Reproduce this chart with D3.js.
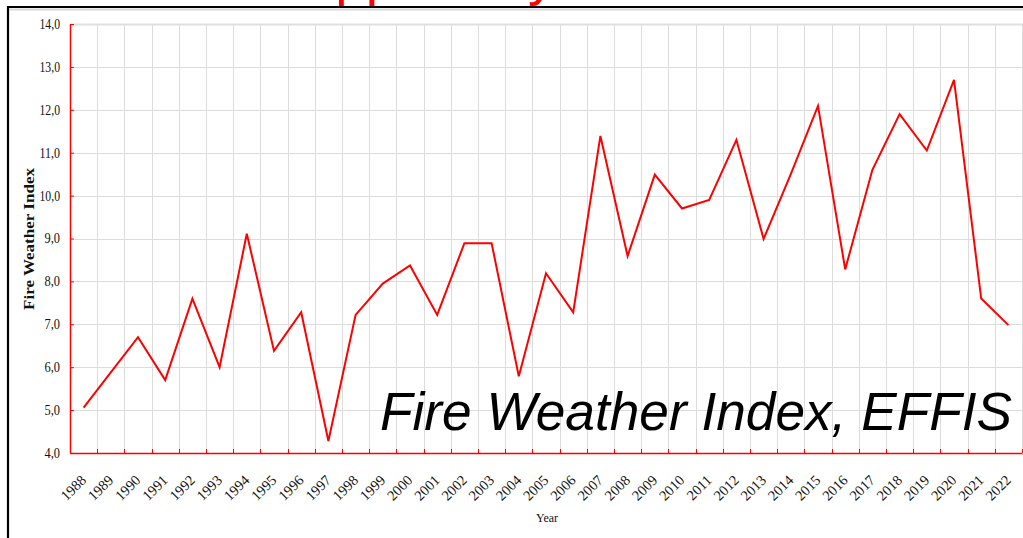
<!DOCTYPE html>
<html>
<head>
<meta charset="utf-8">
<script src="https://cdn.jsdelivr.net/npm/d3@7"></script>
<style>
  html, body { margin: 0; padding: 0; background: #fff; }
  svg { display: block; }
</style>
</head>
<body>
<div id="chart"></div>
<script>
const years = ['1988','1989','1990','1991','1992','1993','1994','1995','1996','1997','1998','1999',
  '2000','2001','2002','2003','2004','2005','2006','2007','2008','2009','2010','2011',
  '2012','2013','2014','2015','2016','2017','2018','2019','2020','2021','2022'];
const fwi = [5.06, 5.88, 6.70, 5.70, 7.60, 6.00, 9.11, 6.38, 7.28, 4.28, 7.22, 7.95,
  8.37, 7.22, 8.89, 8.89, 5.79, 8.19, 7.28, 11.39, 8.59, 10.49, 9.70, 9.90,
  11.30, 8.99, 10.50, 12.09, 8.28, 10.60, 11.90, 11.05, 12.70, 7.60, 6.98];
const yTicks = [4, 5, 6, 7, 8, 9, 10, 11, 12, 13, 14];
const yTitle = 'Fire Weather Index';
const xTitle = 'Year';
const bigLabel = 'Fire Weather Index, EFFIS';
const topTitle = 'Supplied by';

const W = 1023, H = 538;
const margin = { left: 70, top: 24, right: 1, bottom: 85 };
const serif = 'Liberation Serif, Times New Roman, serif';

const svg = d3.select('#chart').append('svg')
  .attr('width', W)
  .attr('height', H);

// red title, mostly above the page; only descenders show
svg.append('clipPath').attr('id', 'topclip')
  .append('rect').attr('x', 0).attr('y', -100).attr('width', W).attr('height', 106);
svg.append('text')
  .attr('clip-path', 'url(#topclip)')
  .attr('x', 268)
  .attr('y', -6)
  .attr('fill', '#ff0000')
  .attr('font-family', 'Liberation Sans, Arial, sans-serif')
  .attr('font-size', 55)
  .text(topTitle);

// frame
svg.append('line').attr('x1', 8).attr('x2', W).attr('y1', 9.5).attr('y2', 9.5)
  .attr('stroke', '#d8d8d8').attr('stroke-width', 2);
svg.append('line').attr('x1', 8).attr('x2', W).attr('y1', 7).attr('y2', 7)
  .attr('stroke', '#000').attr('stroke-width', 2.2);
svg.append('line').attr('x1', 8).attr('x2', 8).attr('y1', 6).attr('y2', H)
  .attr('stroke', '#000').attr('stroke-width', 2.2);

const x = d3.scaleBand()
  .domain(years)
  .range([margin.left, W - margin.right])
  .paddingInner(0).paddingOuter(0);

const y = d3.scaleLinear()
  .domain([4, 14])
  .range([H - margin.bottom, margin.top]);

const bw = x.bandwidth();
const bounds = years.map(d => x(d)).concat([x(years[years.length - 1]) + bw]);

// grid
const grid = svg.append('g');
grid.selectAll('.vg').data(bounds.slice(1)).enter().append('line')
  .attr('x1', d => Math.round(d) + 0.5).attr('x2', d => Math.round(d) + 0.5)
  .attr('y1', margin.top).attr('y2', H - margin.bottom)
  .attr('stroke', '#dcdcdc').attr('stroke-width', 1);
grid.selectAll('.hg').data(yTicks.slice(1)).enter().append('line')
  .attr('x1', margin.left).attr('x2', W)
  .attr('y1', d => Math.round(y(d)) + 0.5).attr('y2', d => Math.round(y(d)) + 0.5)
  .attr('stroke', d => d === 14 ? '#e0e0e0' : '#dcdcdc')
  .attr('stroke-width', d => d === 14 ? 2 : 1);

// big label
svg.append('text')
  .attr('x', 1012)
  .attr('y', 430)
  .attr('text-anchor', 'end')
  .attr('font-family', 'Liberation Sans, Arial, sans-serif')
  .attr('font-style', 'italic')
  .attr('font-size', 53)
  .attr('textLength', 632)
  .attr('lengthAdjust', 'spacingAndGlyphs')
  .attr('fill', '#000')
  .text(bigLabel);

// axes
const yAxis = d3.axisLeft(y)
  .tickValues(yTicks)
  .tickSizeInner(-4).tickSizeOuter(0)
  .tickPadding(10)
  .tickFormat(d => d3.format('.1f')(d).replace('.', ','));
const gy = svg.append('g')
  .attr('transform', `translate(${margin.left},0)`)
  .call(yAxis);
gy.select('.domain').attr('stroke', '#ff0000').attr('stroke-width', 1.5);
gy.selectAll('.tick line').attr('stroke', '#ff0000');
gy.selectAll('.tick text')
  .attr('font-family', serif)
  .attr('font-size', 14)
  .attr('textLength', 20.5)
  .attr('lengthAdjust', 'spacingAndGlyphs')
  .attr('fill', '#111');
gy.selectAll('.tick text').filter(d => d < 10).attr('textLength', 15.5);

const xAxis = d3.axisBottom(x).tickSize(0).tickFormat('');
const gx = svg.append('g')
  .attr('transform', `translate(0,${H - margin.bottom})`)
  .call(xAxis);
gx.select('.domain').attr('stroke', '#ff0000').attr('stroke-width', 1.5);
gx.selectAll('.btick').data(bounds.slice(1)).enter().append('line')
  .attr('x1', d => Math.round(d) + 0.5).attr('x2', d => Math.round(d) + 0.5)
  .attr('y1', 0).attr('y2', -4)
  .attr('stroke', '#ff0000');

// x labels rotated
svg.append('g').selectAll('text').data(years).enter().append('text')
  .attr('transform', d => `translate(${x(d) + bw / 2 + 3.5},${481}) rotate(-45)`)
  .attr('text-anchor', 'end')
  .attr('font-family', serif)
  .attr('font-size', 14.5)
  .attr('fill', '#111')
  .text(d => d);

// axis titles
svg.append('text')
  .attr('transform', `translate(34,${239}) rotate(-90)`)
  .attr('text-anchor', 'middle')
  .attr('font-family', serif)
  .attr('font-size', 15)
  .attr('font-weight', 'bold')
  .attr('textLength', 142)
  .attr('lengthAdjust', 'spacingAndGlyphs')
  .attr('fill', '#111')
  .text(yTitle);

svg.append('text')
  .attr('x', 547)
  .attr('y', 522)
  .attr('text-anchor', 'middle')
  .attr('font-family', serif)
  .attr('font-size', 12)
  .attr('fill', '#111')
  .text(xTitle);

// line
const line = d3.line()
  .x((d, i) => x(years[i]) + bw / 2)
  .y(d => y(d));
svg.append('path')
  .datum(fwi)
  .attr('d', line)
  .attr('fill', 'none')
  .attr('stroke', '#ff0000')
  .attr('stroke-width', 2)
  .attr('stroke-linejoin', 'miter');
</script>
</body>
</html>
